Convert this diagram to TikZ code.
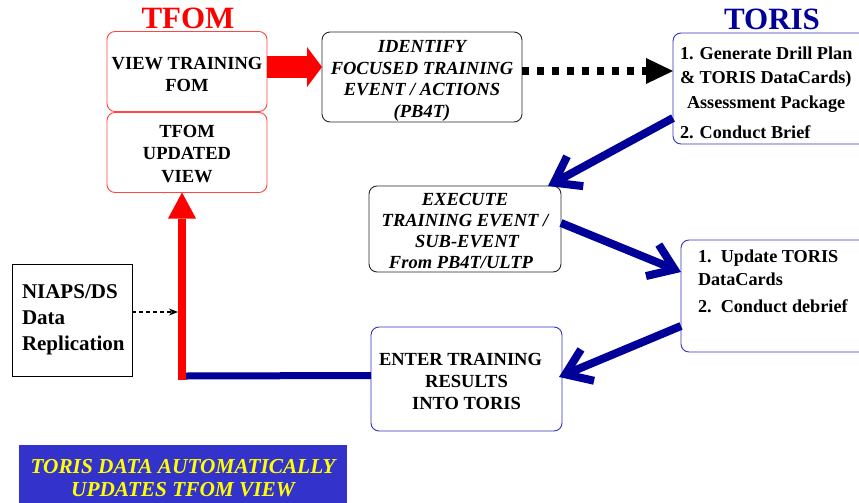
\documentclass[tikz,border=0pt]{standalone}
\usepackage{fontspec}
\setmainfont{Liberation Serif}
\usetikzlibrary{arrows.meta,calc}
\definecolor{tred}{HTML}{FF0000}
\definecolor{bred}{HTML}{FF4545}
\definecolor{navy}{HTML}{000099}
\definecolor{bblue}{HTML}{3333BB}
\definecolor{bannerblue}{HTML}{3333CC}
\definecolor{gold}{HTML}{FFFF00}
\begin{document}
\begin{tikzpicture}[x=1pt,y=-1pt,
  every node/.style={inner sep=0pt, outer sep=0pt},
  boxbase/.style={rounded corners=8pt, line width=0.9pt, align=center},
  redbox/.style={boxbase, draw=bred, minimum width=160pt, minimum height=80pt,
     font=\fontsize{18.5}{22.5}\selectfont\bfseries},
  blackbox/.style={boxbase, draw=black!85, font=\fontsize{18.5}{21.7}\selectfont\bfseries\itshape},
  bluebox/.style={boxbase, draw=bblue, font=\fontsize{18.5}{22}\selectfont\bfseries},
  txt/.style={anchor=north west, align=left},
  title/.style={anchor=base, font=\fontsize{31}{31}\selectfont\bfseries},
  bluearrow/.style={navy, line width=8pt, -{Straight Barb[length=24pt,width=34pt]}},
]
\useasboundingbox (0,0) rectangle (859,503);

% titles
\node[title, text=tred] (tfomtitle) at (188,29) {TFOM};
\node[title, text=navy] (toristitle) at (772,30) {TORIS};

% boxes
\node[redbox] (vtf) at (187,71.5) {\rule{0pt}{18.5pt}VIEW TRAINING\\FOM};
\node[redbox] (tuv) at (187,152.5) {\rule{0pt}{15pt}TFOM\\UPDATED\\VIEW};
\node[blackbox, minimum width=200pt, minimum height=90pt] (ident) at (422,77)
   {\rule{0pt}{20pt}IDENTIFY\\FOCUSED TRAINING\\EVENT / ACTIONS\\(PB4T)};
\node[bluebox, minimum width=200pt, minimum height=111pt, anchor=north west] (toris1) at (673,33) {};
\node[txt, font=\fontsize{18.2}{24.5}\selectfont\bfseries] (toris1txt) at (680,46.5)
   {1. Generate Drill Plan\\\& TORIS DataCards)\\\hspace*{7pt}Assessment Package\\[5.5pt]2. Conduct Brief};
\node[blackbox, minimum width=192pt, minimum height=86pt, font=\fontsize{18.5}{21}\selectfont\bfseries\itshape] (exec) at (465,229)
   {\rule{0pt}{16pt}EXECUTE\\TRAINING EVENT /\\\hspace*{4pt}SUB-EVENT\\From PB4T/ULTP\hspace*{8pt}};
\node[bluebox, minimum width=200pt, minimum height=112pt, anchor=north west] (upd) at (681,240) {};
\node[txt, font=\fontsize{18.2}{23}\selectfont\bfseries] (updtxt) at (698,249.5)
   {1.\ \ Update TORIS\\DataCards\\[4pt]2.\ \ Conduct debrief};
\node[bluebox, minimum width=191pt, minimum height=104pt] (enter) at (466.5,379)
   {\rule{0pt}{17pt}ENTER TRAINING\hspace*{12pt}\\RESULTS\hspace*{8pt}\\INTO TORIS};
\node[draw=black, line width=0.9pt, minimum width=120pt, minimum height=112pt] (niaps) at (72,320) {};
\node[txt, font=\fontsize{21}{26}\selectfont\bfseries] (niapstxt) at (22,284.5)
   {NIAPS/DS\\Data\\Replication};

% banner
\node[fill=bannerblue, minimum width=328pt, minimum height=70pt, anchor=north west] (banner) at (19,445) {};
\node[align=center, text=gold, font=\fontsize{21.3}{23}\selectfont\bfseries\itshape] (bannertxt) at (183,478)
   {TORIS DATA AUTOMATICALLY\\UPDATES TFOM VIEW};

% coordinates
\coordinate (redbot) at (182,380);
\coordinate (junction) at (186,376);
\coordinate (dashend) at (178,312);

% connectors
\draw[tred, line width=22pt, -{Triangle[length=15pt,width=40pt,line width=0pt]}]
  (vtf.east |- 0,67) -- (ident.west |- 0,67);
\draw[black, line width=8pt, dash pattern=on 7pt off 8pt, -{Triangle[length=27pt,width=26pt,line width=0pt]}]
  (ident.east |- 0,71) -- (toris1.west |- 0,71);
\draw[bluearrow] (toris1.west |- 0,118) -- (exec.north -| 548,0);
\draw[bluearrow] (exec.east |- 0,223) -- (upd.west |- 0,272);
\draw[bluearrow] (upd.west |- 0,326) -- ([xshift=-3pt,yshift=2pt]enter.east);
\draw[navy, line width=7pt] ([yshift=3.5pt]enter.west) -- (junction);
\draw[tred, line width=8pt, -{Triangle[length=26pt,width=28pt,line width=0pt]}]
  (redbot) -- ([xshift=-5pt]tuv.south);
\draw[black, line width=1.1pt, dash pattern=on 4pt off 3pt, -{Stealth[length=9pt,width=7pt]}]
  ([yshift=8pt]niaps.east) -- (dashend);
\end{tikzpicture}
\end{document}
